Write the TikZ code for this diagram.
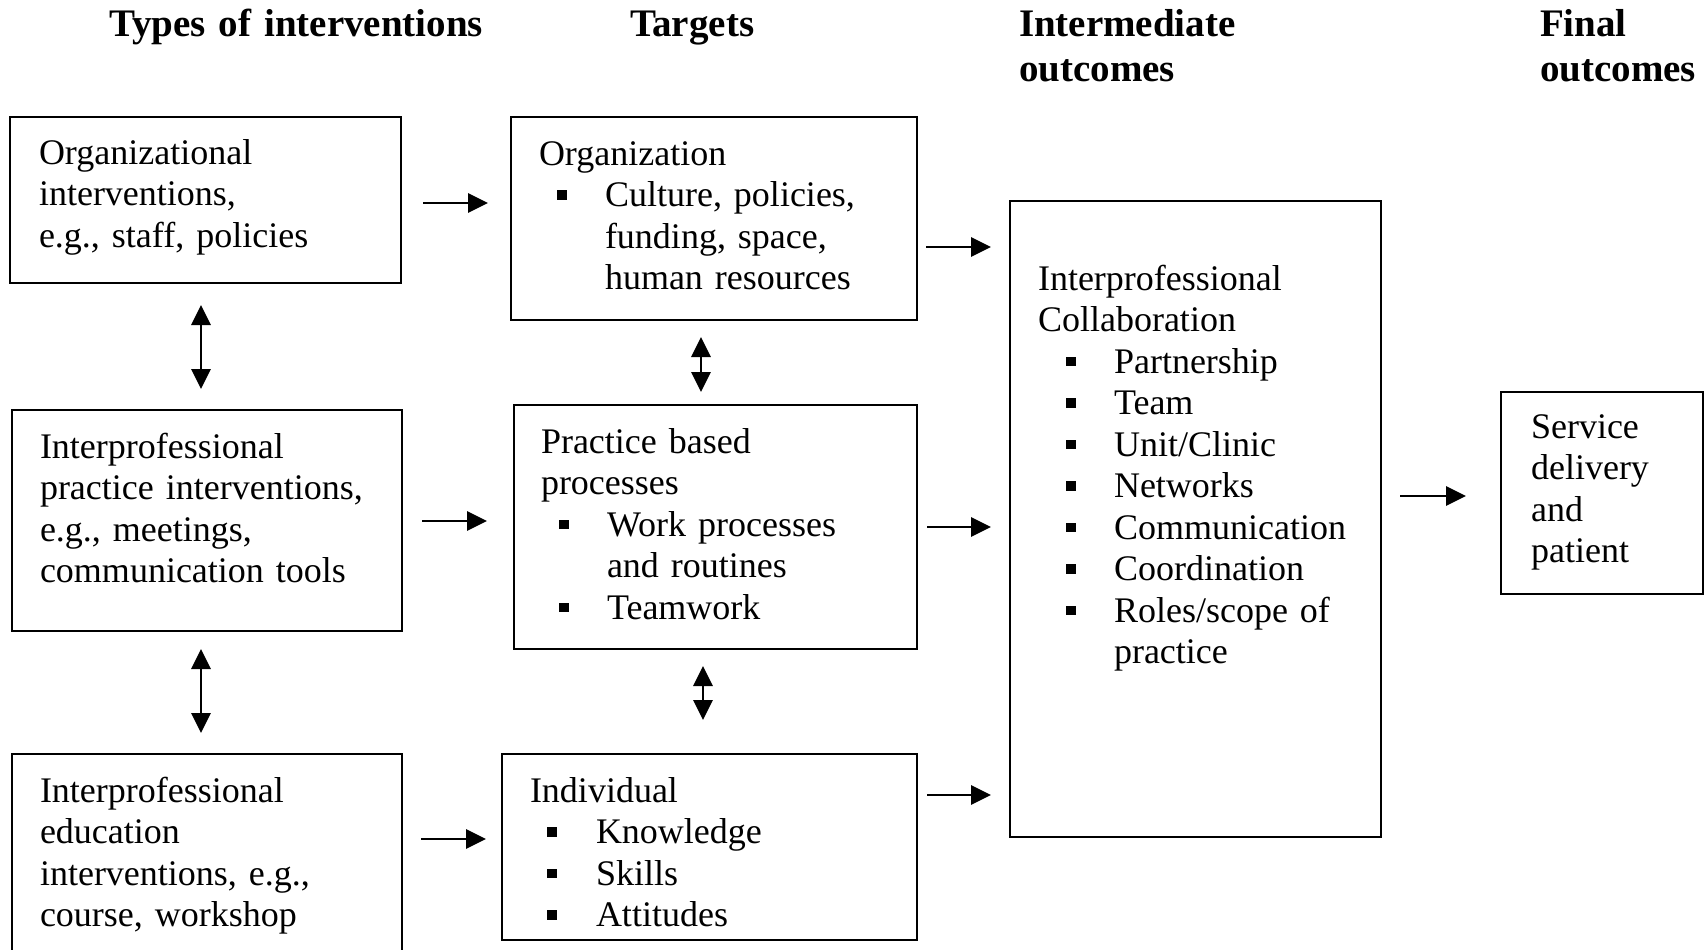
\documentclass[tikz,border=0pt]{standalone}
\usepackage{fontspec}
\setmainfont{Liberation Serif}
\usetikzlibrary{arrows.meta}
\newcommand{\fl}{\rule{0pt}{30pt}}
\newcommand{\hl}{\rule{0pt}{32pt}}
\newcommand{\sqb}{\rule[7pt]{9.5pt}{9.5pt}}
\newcommand{\bul}[2]{\hspace*{#1pt}\makebox[#2pt][l]{\sqb}}
\begin{document}
\frenchspacing
\begin{tikzpicture}[x=1pt,y=-1pt,
  box/.style={draw, line width=2.8pt, inner sep=0pt, outer sep=0pt, anchor=north west},
  txt/.style={anchor=north west, inner sep=0pt, outer sep=0pt, align=left, text width=420pt,
    font=\fontsize{36}{41.5}\selectfont\frenchspacing},
  head/.style={anchor=north west, inner sep=0pt, outer sep=0pt, align=left, text width=400pt,
    font=\fontsize{39}{45}\selectfont\bfseries},
  arr/.style={line width=2.8pt, -{Triangle[length=20pt,width=19pt]}},
  darr/.style={line width=2.8pt, {Triangle[length=20pt,width=19pt]}-{Triangle[length=20pt,width=19pt]}}]
\useasboundingbox (0,0) rectangle (1705,950);
\clip (0,0) rectangle (1705,950);

% headings
\node[head] (h1) at (109,5) {\hl Types of interventions};
\node[head] (h2) at (630,5) {\hl Targets};
\node[head] (h3) at (1019,5) {\hl Intermediate\\outcomes};
\node[head] (h4) at (1540,5) {\hl Final\\outcomes};

% boxes
\node[box, minimum width=391pt, minimum height=166pt] (A) at (10,117) {};
\node[box, minimum width=406pt, minimum height=203pt] (B) at (511,117) {};
\node[box, minimum width=390pt, minimum height=221pt] (C) at (12,410) {};
\node[box, minimum width=403pt, minimum height=244pt] (D) at (514,405) {};
\node[box, minimum width=390pt, minimum height=215pt] (E) at (12,754) {};
\node[box, minimum width=415pt, minimum height=186pt] (F) at (502,754) {};
\node[box, minimum width=371pt, minimum height=636pt] (G) at (1010,201) {};
\node[box, minimum width=202pt, minimum height=202pt] (H) at (1501,392) {};

% texts
\node[txt] (At) at (39,134) {\fl Organizational\\interventions,\\e.g., staff, policies};
\node[txt] (Bt) at (539,135) {\fl Organization\\\bul{18}{48}Culture, policies,\\\hspace*{66pt}funding, space,\\\hspace*{66pt}human resources};
\node[txt] (Ct) at (40,428) {\fl Interprofessional\\practice interventions,\\e.g., meetings,\\communication tools};
\node[txt] (Dt) at (541,423) {\fl Practice based\\processes\\\bul{18}{48}Work processes\\\hspace*{66pt}and routines\\\bul{18}{48}Teamwork};
\node[txt] (Et) at (40,772) {\fl Interprofessional\\education\\interventions, e.g.,\\course, workshop};
\node[txt] (Ft) at (530,772) {\fl Individual\\\bul{17}{49}Knowledge\\\bul{17}{49}Skills\\\bul{17}{49}Attitudes};
\node[txt] (Gt) at (1038,260) {\fl Interprofessional\\Collaboration\\\bul{28}{48}Partnership\\\bul{28}{48}Team\\\bul{28}{48}Unit/Clinic\\\bul{28}{48}Networks\\\bul{28}{48}Communication\\\bul{28}{48}Coordination\\\bul{28}{48}Roles/scope of\\\hspace*{76pt}practice};
\node[txt] (Ht) at (1531,408) {\fl Service\\delivery\\and\\patient};

% horizontal arrows
\draw[arr, shorten <=22pt, shorten >=23pt] (A.east |- 0,203) -- (B.west |- 0,203);
\draw[arr, shorten <=9pt, shorten >=19pt] (B.east |- 0,247) -- (G.west |- 0,247);
\draw[arr, shorten <=20pt, shorten >=27pt] (C.east |- 0,521) -- (D.west |- 0,521);
\draw[arr, shorten <=10pt, shorten >=19pt] (D.east |- 0,527) -- (G.west |- 0,527);
\draw[arr, shorten <=19pt, shorten >=16pt] (E.east |- 0,839) -- (F.west |- 0,839);
\draw[arr, shorten <=10pt, shorten >=19pt] (F.east |- 0,795) -- (G.west |- 0,795);
\draw[arr, shorten <=19pt, shorten >=35pt] (G.east |- 0,496) -- (H.west |- 0,496);

% vertical double arrows
\draw[darr, shorten <=22pt, shorten >=21pt] (A.south -| 201,0) -- (C.north -| 201,0);
\draw[darr, shorten <=18pt, shorten >=21pt] (C.south -| 201,0) -- (E.north -| 201,0);
\draw[darr, shorten <=17pt, shorten >=13pt] (B.south -| 701,0) -- (D.north -| 701,0);
\draw[darr, shorten <=17pt, shorten >=34pt] (D.south -| 703,0) -- (F.north -| 703,0);
\end{tikzpicture}
\end{document}
